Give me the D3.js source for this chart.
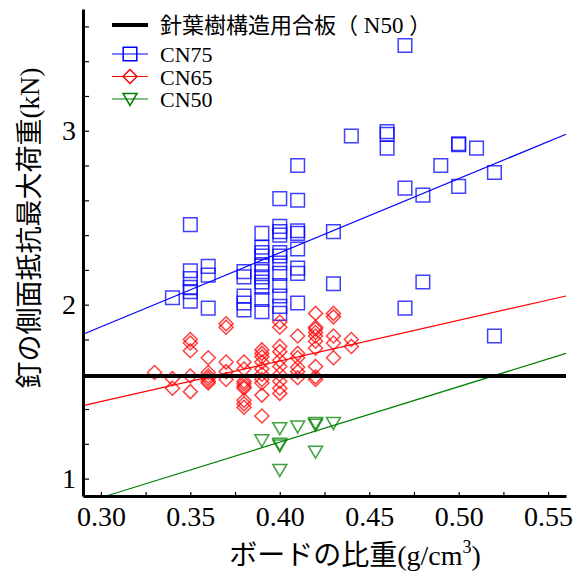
<!DOCTYPE html>
<html>
<head>
<meta charset="utf-8">
<script src="https://cdn.jsdelivr.net/npm/d3@7/dist/d3.min.js"></script>
<style>
  body { margin: 0; background: #fff; }
  .tick text { font-family: "Liberation Serif", serif; font-size: 28px; fill: #000; }
</style>
</head>
<body>
<script>
// data: [density, load kN]
var cn75 = [
  [0.34, 2.04],
  [0.35, 2.46], [0.35, 2.195], [0.35, 2.15], [0.35, 2.10], [0.35, 2.075], [0.35, 2.02],
  [0.36, 2.22], [0.36, 2.17], [0.36, 1.98],
  [0.38, 2.19], [0.38, 2.16], [0.38, 2.05], [0.38, 2.01], [0.38, 1.97],
  [0.39, 2.41], [0.39, 2.33], [0.39, 2.30], [0.39, 2.28], [0.39, 2.23], [0.39, 2.19],
  [0.39, 2.16], [0.39, 2.13], [0.39, 2.10], [0.39, 2.03], [0.39, 1.96],
  [0.40, 2.61], [0.40, 2.45], [0.40, 2.42], [0.40, 2.40], [0.40, 2.30], [0.40, 2.28],
  [0.40, 2.24], [0.40, 2.18], [0.40, 2.11], [0.40, 2.05], [0.40, 1.99], [0.40, 1.95],
  [0.41, 2.80], [0.41, 2.60], [0.41, 2.425], [0.41, 2.41], [0.41, 2.32], [0.41, 2.21],
  [0.41, 2.18], [0.41, 2.01],
  [0.43, 2.42], [0.43, 2.12],
  [0.44, 2.97],
  [0.46, 2.995], [0.46, 2.98], [0.46, 2.90],
  [0.47, 3.49], [0.47, 2.67], [0.47, 1.98],
  [0.48, 2.63], [0.48, 2.13],
  [0.49, 2.80],
  [0.50, 2.925], [0.50, 2.92], [0.50, 2.68],
  [0.51, 2.90],
  [0.52, 2.76], [0.52, 1.82]
];

var cn65 = [
  [0.33, 1.61],
  [0.34, 1.575], [0.34, 1.52],
  [0.35, 1.80], [0.35, 1.78], [0.35, 1.735], [0.35, 1.59], [0.35, 1.50],
  [0.36, 1.695], [0.36, 1.61], [0.36, 1.59], [0.36, 1.575], [0.36, 1.56], [0.36, 1.55],
  [0.37, 1.89], [0.37, 1.87], [0.37, 1.67], [0.37, 1.615], [0.37, 1.57],
  [0.38, 1.67], [0.38, 1.63], [0.38, 1.56], [0.38, 1.545], [0.38, 1.53], [0.38, 1.52],
  [0.38, 1.45], [0.38, 1.43], [0.38, 1.41],
  [0.39, 1.74], [0.39, 1.72], [0.39, 1.70], [0.39, 1.67], [0.39, 1.63], [0.39, 1.60],
  [0.39, 1.57], [0.39, 1.55], [0.39, 1.48], [0.39, 1.36],
  [0.40, 1.90], [0.40, 1.87], [0.40, 1.76], [0.40, 1.73], [0.40, 1.68], [0.40, 1.645],
  [0.40, 1.60], [0.40, 1.56], [0.40, 1.52], [0.40, 1.49],
  [0.41, 1.82], [0.41, 1.72], [0.41, 1.695], [0.41, 1.64], [0.41, 1.615], [0.41, 1.58],
  [0.42, 1.95], [0.42, 1.87], [0.42, 1.86], [0.42, 1.84], [0.42, 1.82], [0.42, 1.79],
  [0.42, 1.75], [0.42, 1.645], [0.42, 1.585], [0.42, 1.57],
  [0.43, 1.95], [0.43, 1.93], [0.43, 1.82], [0.43, 1.78], [0.43, 1.695],
  [0.44, 1.80], [0.44, 1.76]
];

var cn50 = [
  [0.39, 1.22],
  [0.40, 1.29], [0.40, 1.20], [0.40, 1.19], [0.40, 1.05],
  [0.41, 1.30],
  [0.42, 1.32], [0.42, 1.31], [0.42, 1.155],
  [0.43, 1.32]
];

// regression lines (end points)
var fit75 = [[0.29, 1.83], [0.56, 2.98]];
var fit65 = [[0.29, 1.42], [0.56, 2.05]];
var fit50 = [[0.303, 0.90], [0.56, 1.72]];

// plywood reference value (N50)
var plywoodN50 = 1.59;

var xTicks = [0.30, 0.325, 0.35, 0.375, 0.40, 0.425, 0.45, 0.475, 0.50, 0.525, 0.55];
var xLabels = [0.30, 0.35, 0.40, 0.45, 0.50, 0.55];
var yTicks = [1.0, 1.2, 1.4, 1.6, 1.8, 2.0, 2.2, 2.4, 2.6, 2.8, 3.0, 3.2, 3.4, 3.6];
var yLabels = [1, 2, 3];

var legendItems = [
  {name: "CN75", color: "#0000ff", shape: "square"},
  {name: "CN65", color: "#ff0000", shape: "diamond"},
  {name: "CN50", color: "#008000", shape: "triangle"}
];

// setting graph dimensions and margins
var margin = {top: 9, right: 20, bottom: 78, left: 83},
    width = 586 - margin.left - margin.right,
    height = 574 - margin.top - margin.bottom;

var x = d3.scaleLinear().domain([0.29, 0.56]).range([0, width]);
var y = d3.scaleLinear().domain([0.9, 3.7]).range([height, 0]);

var shapes = {
  square: "M-6.8,-6.8H6.8V6.8H-6.8Z",
  diamond: "M0,-7L7,0L0,7L-7,0Z",
  triangle: "M-7,-5.5H7L0,6.5Z"
};

var svg = d3.select("body").append("svg")
    .attr("width", 586)
    .attr("height", 574)
  .append("g")
    .attr("transform", "translate(" + margin.left + "," + margin.top + ")");

// markers
function drawPoints(data, item) {
  svg.append("g").selectAll("path")
      .data(data)
    .enter().append("path")
      .attr("d", shapes[item.shape])
      .attr("transform", function(d) { return "translate(" + x(d[0]) + "," + y(d[1]) + ")"; })
      .style("fill", "none")
      .style("stroke", item.color)
      .style("stroke-width", 1.5)
      .style("stroke-opacity", 0.75);
}
drawPoints(cn75, legendItems[0]);
drawPoints(cn65, legendItems[1]);
drawPoints(cn50, legendItems[2]);

// fitted lines
var line = d3.line()
    .x(function(d) { return x(d[0]); })
    .y(function(d) { return y(d[1]); });

[[fit75, "#0000ff"], [fit65, "#ff0000"], [fit50, "#008000"]].forEach(function(f) {
  svg.append("path")
      .datum(f[0])
      .attr("d", line)
      .style("fill", "none")
      .style("stroke", f[1])
      .style("stroke-width", 1.2);
});

// plywood line
svg.append("line")
    .attr("x1", 0).attr("x2", width)
    .attr("y1", y(plywoodN50)).attr("y2", y(plywoodN50))
    .style("stroke", "#000")
    .style("stroke-width", 4);

// axes
var xAxis = svg.append("g")
    .attr("transform", "translate(0," + height + ")")
    .call(d3.axisBottom(x)
      .tickValues(xTicks)
      .tickSizeInner(-4)
      .tickSizeOuter(0)
      .tickPadding(10)
      .tickFormat(function(d) {
        return xLabels.some(function(v) { return Math.abs(v - d) < 1e-6; }) ? d3.format(".2f")(d) : "";
      }));

var yAxis = svg.append("g")
    .call(d3.axisLeft(y)
      .tickValues(yTicks)
      .tickSizeInner(-6)
      .tickSizeOuter(0)
      .tickPadding(7)
      .tickFormat(function(d) {
        return yLabels.some(function(v) { return Math.abs(v - d) < 1e-6; }) ? d3.format("d")(d) : "";
      }));

[xAxis, yAxis].forEach(function(a) {
  a.select(".domain").style("stroke", "#000").style("stroke-width", 3);
  a.selectAll(".tick line").style("stroke", "#000").style("stroke-width", 1.2);
});

// legend
var legend = svg.append("g").attr("transform", "translate(29,16)");

legend.append("line")
    .attr("x1", 0).attr("x2", 36)
    .attr("y1", 0).attr("y2", 0)
    .style("stroke", "#000")
    .style("stroke-width", 4);

var title = legend.append("text")
    .attr("x", 48)
    .attr("y", 8)
    .style("font-size", "22px");
title.append("tspan").style("font-family", "'Noto Sans CJK JP'").text("針葉樹構造用合板（");
title.append("tspan").style("font-family", "'Liberation Serif'").style("font-size", "23px").text(" N50 ");
title.append("tspan").style("font-family", "'Noto Sans CJK JP'").text("）");

legendItems.forEach(function(item, i) {
  var g = legend.append("g").attr("transform", "translate(0," + (29 + i * 22.5) + ")");
  g.append("line")
      .attr("x1", 0).attr("x2", 36)
      .style("stroke", item.color)
      .style("stroke-width", 1.2);
  g.append("path")
      .attr("d", shapes[item.shape])
      .attr("transform", "translate(18,0)")
      .style("fill", "none")
      .style("stroke", item.color)
      .style("stroke-width", 1.5);
  g.append("text")
      .attr("x", 48)
      .attr("y", 8)
      .style("font-family", "'Liberation Serif'")
      .style("font-size", "22px")
      .text(item.name);
});

// x axis label
var xl = svg.append("text")
    .attr("x", 272)
    .attr("y", height + 69)
    .style("text-anchor", "middle")
    .style("font-size", "28px");
xl.append("tspan").style("font-family", "'Noto Sans CJK JP'").text("ボードの比重");
xl.append("tspan").style("font-family", "'Liberation Serif'").text("(g/cm");
xl.append("tspan").style("font-family", "'Liberation Serif'").style("font-size", "18px").attr("dy", -12).text("3");
xl.append("tspan").style("font-family", "'Liberation Serif'").attr("dy", 12).text(")");

// y axis label
var yl = svg.append("text")
    .attr("transform", "translate(" + (-44) + "," + 219 + ") rotate(-90)")
    .style("text-anchor", "middle")
    .style("font-size", "27px");
yl.append("tspan").style("font-family", "'Noto Sans CJK JP'").text("釘の側面抵抗最大荷重");
yl.append("tspan").style("font-family", "'Liberation Serif'").text("(kN)");
</script>
</body>
</html>
